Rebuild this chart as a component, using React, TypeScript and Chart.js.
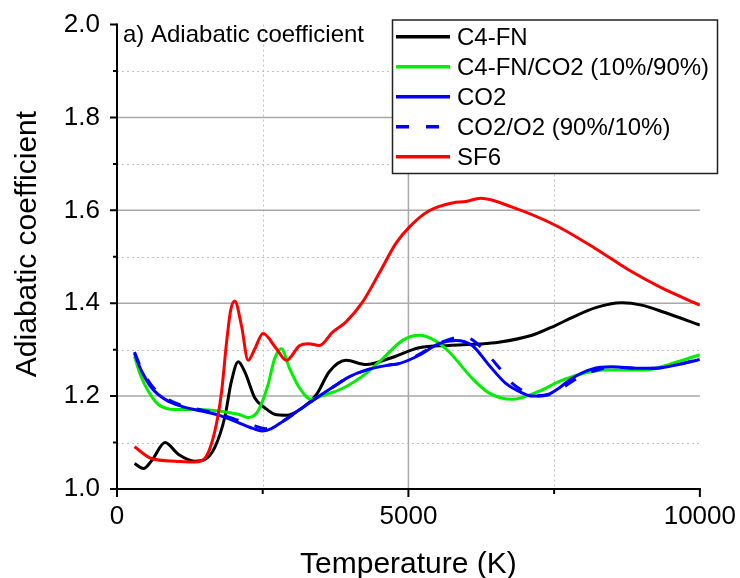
import React, { useEffect, useRef } from "react";
import { Chart, registerables } from "chart.js";

Chart.register(...registerables);

const FONT = '"Liberation Sans", Arial, Helvetica, sans-serif';

// ---- Data (Temperature in K, adiabatic coefficient) ----
const c4fnT = [300, 455, 600, 825, 1050, 1340, 1500, 1680, 1850, 1960, 2080, 2200, 2365, 2535, 2705, 2905, 3150, 3420, 3645, 3930, 4275, 4670, 5185, 5700, 6200, 6550, 7120, 7520, 7805, 8200, 8660, 9000, 9400, 10000];
const c4fnV = [1.055, 1.044, 1.062, 1.1, 1.075, 1.06, 1.063, 1.09, 1.155, 1.23, 1.274, 1.25, 1.196, 1.175, 1.161, 1.159, 1.172, 1.203, 1.253, 1.277, 1.268, 1.281, 1.304, 1.309, 1.312, 1.316, 1.331, 1.352, 1.369, 1.39, 1.401, 1.396, 1.38, 1.353];

const c4fnCo2T = [300, 400, 540, 710, 1000, 1395, 1850, 2080, 2250, 2420, 2590, 2705, 2820, 2960, 3135, 3335, 3500, 3875, 4275, 4560, 4900, 5185, 5450, 5700, 6095, 6380, 6780, 7235, 7580, 7920, 8375, 9060, 9515, 10000];
const c4fnCo2V = [1.285, 1.246, 1.21, 1.182, 1.171, 1.171, 1.166, 1.161, 1.154, 1.168, 1.224, 1.281, 1.302, 1.26, 1.217, 1.193, 1.2, 1.217, 1.249, 1.281, 1.32, 1.331, 1.32, 1.295, 1.238, 1.207, 1.193, 1.21, 1.231, 1.246, 1.256, 1.256, 1.27, 1.289];

const co2T = [300, 425, 600, 825, 1110, 1450, 1795, 2080, 2365, 2505, 2650, 2850, 3135, 3420, 3760, 3990, 4275, 4670, 4840, 5185, 5525, 5810, 6095, 6380, 6665, 6950, 7120, 7405, 7580, 7805, 8145, 8490, 8945, 9230, 9630, 10000];
const co2V = [1.292, 1.253, 1.217, 1.193, 1.178, 1.168, 1.157, 1.143, 1.129, 1.125, 1.13, 1.146, 1.171, 1.196, 1.224, 1.242, 1.256, 1.267, 1.27, 1.288, 1.313, 1.32, 1.309, 1.267, 1.228, 1.207, 1.2, 1.204, 1.217, 1.238, 1.258, 1.263, 1.26, 1.26, 1.268, 1.279];

const co2o2T = [300, 425, 600, 825, 1110, 1450, 1795, 2080, 2365, 2550, 2850, 3135, 3420, 3760, 3990, 4275, 4670, 4840, 5185, 5525, 5950, 6130, 6380, 6550, 6750, 6980, 7150, 7405, 7600, 7860, 8090, 8500, 8945, 9230, 9630, 10000];
const co2o2V = [1.295, 1.257, 1.222, 1.197, 1.18, 1.17, 1.16, 1.148, 1.136, 1.13, 1.146, 1.171, 1.196, 1.224, 1.242, 1.256, 1.267, 1.27, 1.29, 1.314, 1.328, 1.318, 1.287, 1.262, 1.231, 1.21, 1.2, 1.203, 1.214, 1.236, 1.25, 1.262, 1.26, 1.26, 1.268, 1.28];

const sf6T = [300, 600, 1000, 1340, 1500, 1680, 1795, 1880, 1950, 2020, 2135, 2250, 2365, 2505, 2735, 2905, 3135, 3275, 3475, 3700, 3930, 4215, 4500, 4785, 5015, 5355, 5755, 5985, 6240, 6780, 7520, 8205, 8775, 9345, 10000];
const sf6V = [1.091, 1.065, 1.06, 1.058, 1.065, 1.125, 1.21, 1.316, 1.385, 1.405, 1.352, 1.277, 1.302, 1.335, 1.302, 1.277, 1.309, 1.313, 1.309, 1.338, 1.36, 1.403, 1.465, 1.529, 1.564, 1.599, 1.616, 1.619, 1.626, 1.607, 1.568, 1.518, 1.472, 1.433, 1.396];

const seriesNames = ["C4-FN", "C4-FN/CO2 (10%/90%)", "CO2", "CO2/O2 (90%/10%)", "SF6"];

const xMajorTicks = [0, 5000, 10000];
const xMinorTicks = [2500, 7500];
const yMajorTicks = [1.0, 1.2, 1.4, 1.6, 1.8, 2.0];
const yMinorTicks = [1.1, 1.3, 1.5, 1.7, 1.9];

const panelLabel = "a) Adiabatic coefficient";
const xTitle = "Temperature (K)";
const yTitle = "Adiabatic coefficient";

const toPts = (t: number[], v: number[]) => t.map((x, i) => ({ x, y: v[i] }));

const framePlugin = {
  id: "framePlugin",
  beforeDatasetsDraw(chart: any) {
    const { ctx, chartArea: a, scales } = chart;
    const x = scales.x;
    const y = scales.y;
    ctx.save();
    // minor dotted grid
    ctx.strokeStyle = "#c2c2c2";
    ctx.lineWidth = 1;
    ctx.setLineDash([2, 3]);
    for (const v of yMinorTicks) {
      const py = Math.round(y.getPixelForValue(v)) + 0.5;
      ctx.beginPath();
      ctx.moveTo(a.left, py);
      ctx.lineTo(a.right, py);
      ctx.stroke();
    }
    for (const v of xMinorTicks) {
      const px = Math.round(x.getPixelForValue(v)) + 0.5;
      ctx.beginPath();
      ctx.moveTo(px, a.top);
      ctx.lineTo(px, a.bottom);
      ctx.stroke();
    }
    // major solid grid
    ctx.setLineDash([]);
    ctx.strokeStyle = "#a8a8a8";
    ctx.lineWidth = 1.5;
    for (const v of yMajorTicks) {
      if (v <= 1.0 || v >= 2.0) continue;
      const py = y.getPixelForValue(v);
      ctx.beginPath();
      ctx.moveTo(a.left, py);
      ctx.lineTo(a.right, py);
      ctx.stroke();
    }
    for (const v of xMajorTicks) {
      if (v <= 0 || v >= 10000) continue;
      const px = x.getPixelForValue(v);
      ctx.beginPath();
      ctx.moveTo(px, a.top);
      ctx.lineTo(px, a.bottom);
      ctx.stroke();
    }
    ctx.restore();
  },
  afterDatasetsDraw(chart: any) {
    const { ctx, chartArea: a, scales } = chart;
    const x = scales.x;
    const y = scales.y;
    ctx.save();
    ctx.strokeStyle = "#000";
    ctx.lineWidth = 2;
    ctx.setLineDash([]);
    // axes
    ctx.beginPath();
    ctx.moveTo(a.left, a.top - 1);
    ctx.lineTo(a.left, a.bottom + 1);
    ctx.moveTo(a.left - 1, a.bottom);
    ctx.lineTo(a.right + 1, a.bottom);
    ctx.stroke();
    // y ticks
    ctx.beginPath();
    for (const v of yMajorTicks) {
      const py = y.getPixelForValue(v);
      ctx.moveTo(a.left, py);
      ctx.lineTo(a.left - 7, py);
    }
    for (const v of yMinorTicks) {
      const py = y.getPixelForValue(v);
      ctx.moveTo(a.left, py);
      ctx.lineTo(a.left - 4, py);
    }
    for (const v of xMajorTicks) {
      const px = x.getPixelForValue(v);
      ctx.moveTo(px, a.bottom);
      ctx.lineTo(px, a.bottom + 8);
    }
    for (const v of xMinorTicks) {
      const px = x.getPixelForValue(v);
      ctx.moveTo(px, a.bottom);
      ctx.lineTo(px, a.bottom + 5);
    }
    ctx.stroke();
    ctx.restore();
  },
  afterDraw(chart: any) {
    const { ctx, chartArea: a, scales } = chart;
    const x = scales.x;
    ctx.save();
    ctx.fillStyle = "#000";
    // panel label
    ctx.font = `24px ${FONT}`;
    ctx.textAlign = "left";
    ctx.textBaseline = "alphabetic";
    ctx.fillText(panelLabel, a.left + 6, 41.5);
    // x title
    ctx.font = `30px ${FONT}`;
    ctx.textAlign = "center";
    ctx.fillText(xTitle, x.getPixelForValue(5000), 573);
    // y title
    ctx.save();
    ctx.translate(36, 244);
    ctx.rotate(-Math.PI / 2);
    ctx.textAlign = "center";
    ctx.fillText(yTitle, 0, 0);
    ctx.restore();

    // legend
    const L = 392.5, T = 20, R = 717.5, B = 173.5;
    ctx.fillStyle = "#fff";
    ctx.fillRect(L, T, R - L, B - T);
    ctx.strokeStyle = "#222";
    ctx.lineWidth = 1.5;
    ctx.strokeRect(L, T, R - L, B - T);
    const ds = chart.data.datasets;
    ctx.font = `24px ${FONT}`;
    ctx.textAlign = "left";
    ctx.textBaseline = "alphabetic";
    for (let i = 0; i < seriesNames.length; i++) {
      const cy = 36.7 + i * 30;
      const d = ds[i];
      ctx.strokeStyle = d.borderColor;
      ctx.lineWidth = 3.5;
      ctx.setLineDash(d.borderDash || []);
      ctx.beginPath();
      ctx.moveTo(396, cy);
      ctx.lineTo(450, cy);
      ctx.stroke();
      ctx.setLineDash([]);
      ctx.fillStyle = "#000";
      ctx.fillText(seriesNames[i], 457, cy + 8.5);
    }
    ctx.restore();
  },
};

export default function App() {
  const ref = useRef<HTMLCanvasElement | null>(null);
  useEffect(() => {
    if (!ref.current) return;
    const common = {
      pointRadius: 0,
      borderWidth: 3,
      fill: false,
      cubicInterpolationMode: "monotone" as const,
    };
    const chart = new Chart(ref.current, {
      type: "line",
      data: {
        datasets: [
          { label: seriesNames[0], data: toPts(c4fnT, c4fnV), borderColor: "#000000", order: 4, ...common },
          { label: seriesNames[1], data: toPts(c4fnCo2T, c4fnCo2V), borderColor: "#00ee00", order: 3, ...common },
          { label: seriesNames[2], data: toPts(co2T, co2V), borderColor: "#0000ff", order: 2, ...common },
          { label: seriesNames[3], data: toPts(co2o2T, co2o2V), borderColor: "#0000ff", borderDash: [13, 17], order: 1, ...common },
          { label: seriesNames[4], data: toPts(sf6T, sf6V), borderColor: "#ff0000", order: 0, ...common },
        ],
      },
      options: {
        responsive: false,
        animation: false,
        layout: { padding: { left: 0, right: 38, top: 18, bottom: 0 } },
        plugins: { legend: { display: false }, title: { display: false }, tooltip: { enabled: false } },
        scales: {
          x: {
            type: "linear",
            min: 0,
            max: 10000,
            grid: { display: false, drawTicks: true, tickLength: 8 },
            border: { display: false },
            afterBuildTicks: (s: any) => { s.ticks = xMajorTicks.map((v) => ({ value: v })); },
            afterFit: (s: any) => { s.height = 89; },
            ticks: {
              color: "#000",
              font: { family: FONT, size: 26 },
              padding: 4,
              maxRotation: 0,
              callback: (v: any) => String(v),
            },
          },
          y: {
            type: "linear",
            min: 1.0,
            max: 2.0,
            grid: { display: false, drawTicks: true, tickLength: 8 },
            border: { display: false },
            afterBuildTicks: (s: any) => { s.ticks = yMajorTicks.map((v) => ({ value: v })); },
            afterFit: (s: any) => { s.width = 117; },
            ticks: {
              color: "#000",
              font: { family: FONT, size: 26 },
              padding: 9,
              callback: (v: any) => Number(v).toFixed(1),
            },
          },
        },
      },
      plugins: [framePlugin],
    });
    return () => chart.destroy();
  }, []);
  return (
    <div style={{ position: "absolute", left: 0, top: 0, width: 740, height: 578, background: "#fff" }}>
      <canvas ref={ref} width={740} height={578} style={{ width: 740, height: 578, display: "block" }} />
    </div>
  );
}
